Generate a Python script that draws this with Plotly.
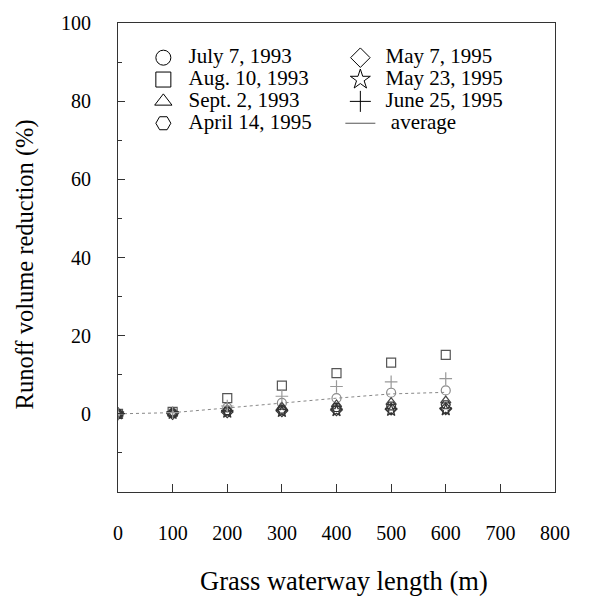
import plotly.graph_objects as go

# ---- data ----
lengths = [0, 100, 200, 300, 400, 500, 600]
july7_1993 = [0, 0.3, 1.6, 2.8, 4.0, 5.4, 6.0]
aug10_1993 = [0, 0.5, 4.0, 7.2, 10.4, 13.1, 15.1]
sept2_1993 = [0, 0.2, 1.2, 1.8, 2.4, 3.0, 3.4]
april14_1995 = [0, 0.1, 0.8, 1.2, 1.6, 2.0, 2.3]
may7_1995 = [0, 0.1, 0.5, 0.8, 1.0, 1.2, 1.3]
may23_1995 = [0, 0.1, 0.4, 0.6, 0.8, 0.9, 1.0]
june25_1995 = [0, 0.3, 2.0, 4.5, 7.0, 8.2, 9.0]
average = [0, 0.3, 1.5, 2.8, 4.0, 5.1, 5.5]

y_ticks = [0, 20, 40, 60, 80, 100]
x_ticks = [0, 100, 200, 300, 400, 500, 600, 700, 800]

FONT = "Liberation Serif"

series = [
    ("July 7, 1993", july7_1993, "circle-open", "#8a8a8a"),
    ("Aug. 10, 1993", aug10_1993, "square-open", "#555555"),
    ("Sept. 2, 1993", sept2_1993, "triangle-up-open", "#444444"),
    ("April 14, 1995", april14_1995, "hexagon2-open", "#333333"),
    ("May 7, 1995", may7_1995, "diamond-open", "#333333"),
    ("May 23, 1995", may23_1995, "star-open", "#333333"),
    ("June 25, 1995", june25_1995, "cross-thin-open", "#999999"),
]

fig = go.Figure()

# average line
fig.add_trace(go.Scatter(
    x=lengths, y=average, mode="lines", showlegend=False,
    line=dict(color="#888888", width=1, dash="dot"), name="average"))

# data markers
for name, vals, sym, col in series:
    fig.add_trace(go.Scatter(
        x=lengths, y=vals, mode="markers", name=name, showlegend=False,
        marker=dict(symbol=sym, size=9, color=col,
                    line=dict(color=col, width=1.2))))

# legend entries (empty traces so legend symbols can be larger than data marks)
legend_order = [0, 4, 1, 5, 2, 6, 3]


def leg_label(t):
    return '<span style="font-size:21px">\u00a0' + t + '</span>'


for idx in legend_order:
    name, vals, sym, col = series[idx]
    fig.add_trace(go.Scatter(
        x=[None], y=[None], mode="markers", name=leg_label(name),
        marker=dict(symbol=sym, size=15, color="black",
                    line=dict(color="black", width=1))))
fig.add_trace(go.Scatter(
    x=[None], y=[None], mode="lines", name=leg_label("\u00a0average"),
    line=dict(color="#555555", width=1)))

axis_common = dict(
    showgrid=False, zeroline=False, showline=True, mirror=True,
    linecolor="#333333", linewidth=1, ticks="inside", tickcolor="#333333",
    tickfont=dict(family=FONT, size=20, color="black"),
)

fig.update_xaxes(
    range=[0, 800], tickvals=x_ticks, ticklen=8,
    ticklabelstandoff=23, **axis_common)
fig.update_yaxes(
    range=[-20, 100], tickvals=y_ticks, ticklen=7,
    minor=dict(dtick=10, tick0=0, ticks="inside", ticklen=4, tickcolor="#333333"),
    ticklabelstandoff=22, **axis_common)

fig.update_layout(
    width=589, height=601,
    margin=dict(l=118, r=34, t=14, b=109),
    paper_bgcolor="white", plot_bgcolor="white",
    font=dict(family=FONT, color="black"),
    showlegend=True,
    legend=dict(
        orientation="h", x=0.058, y=0.96, xanchor="left", yanchor="top",
        entrywidth=152, entrywidthmode="pixels",
        font=dict(family=FONT, size=14.5, color="black"),
        bgcolor="rgba(0,0,0,0)", borderwidth=0, traceorder="normal",
        itemsizing="trace",
    ),
    annotations=[
        dict(text="Grass waterway length (m)", xref="paper", yref="paper",
             x=0.517, y=-0.19, xanchor="center", yanchor="middle",
             showarrow=False, font=dict(family=FONT, size=26.5, color="black")),
        dict(text="Runoff volume reduction (%)", xref="paper", yref="paper",
             x=-0.213, y=0.485, xanchor="center", yanchor="middle", textangle=-90,
             showarrow=False, font=dict(family=FONT, size=24.5, color="black")),
    ],
)

fig.write_html("out.html")
